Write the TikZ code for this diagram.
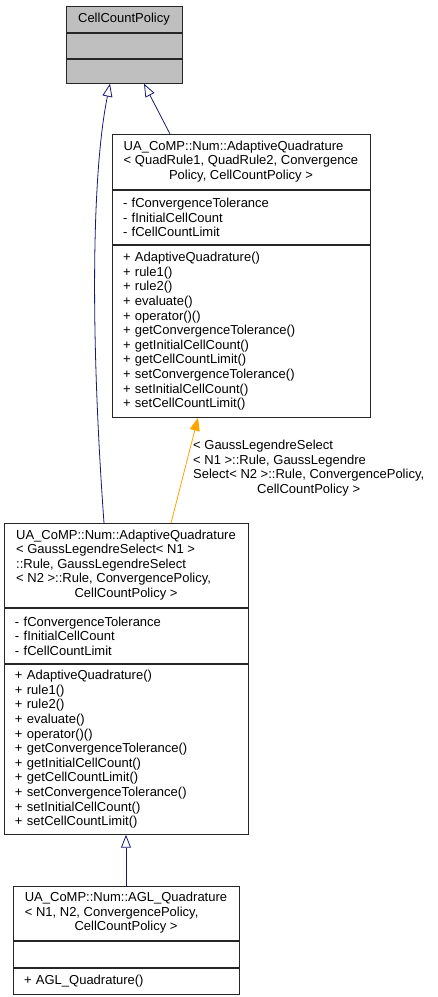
\documentclass[tikz,border=0pt]{standalone}
\usepackage{fontspec}
\setmainfont{Liberation Sans}
\usetikzlibrary{positioning,arrows.meta}
\definecolor{EdgeNavy}{HTML}{191970}
\definecolor{EdgeOrange}{HTML}{FFA500}
\definecolor{PolicyGray}{HTML}{BFBFBF}

% class header: left aligned lines, last line centred
\newcommand{\umlhead}[2]{\begin{tabular}{@{}l@{}}#1\\\multicolumn{1}{@{}c@{}}{#2}\end{tabular}}
\newcommand{\aqfields}{- fConvergenceTolerance\\- fInitialCellCount\\- fCellCountLimit}
\newcommand{\aqmethods}{+ AdaptiveQuadrature()\\+ rule1()\\+ rule2()\\+ evaluate()\\+ operator()()\\+ getConvergenceTolerance()\\+ getInitialCellCount()\\+ getCellCountLimit()\\+ setConvergenceTolerance()\\+ setInitialCellCount()\\+ setCellCountLimit()}

\tikzset{
  umlbox/.style={draw=black!85, line width=0.9pt, rectangle, inner sep=0pt,
    font=\fontsize{13}{14.5}\selectfont},
  umlpart/.style={umlbox, inner xsep=11pt, align=left},
  methods/.style={umlpart, font=\fontsize{13}{14.6}\selectfont},
  inherit/.style={draw=EdgeNavy, line width=0.8pt,
    -{Triangle[open, length=13pt, width=10pt]}},
  realize/.style={draw=EdgeOrange, line width=0.8pt,
    -{Triangle[length=13pt, width=10pt]}},
  edgelabel/.style={inner sep=0pt, font=\fontsize{13}{14.6}\selectfont}
}

\begin{document}
\begin{tikzpicture}[x=1pt, y=-1pt]
  \useasboundingbox (0,0) rectangle (437,997);

  % CellCountPolicy
  \node[umlbox, fill=PolicyGray, minimum width=116pt, minimum height=26pt] (ccpt) at (124,6) [anchor=north] {CellCountPolicy};
  \node[umlbox, fill=PolicyGray, minimum width=116pt, minimum height=25pt, below=0pt of ccpt] (ccpa) {};
  \node[umlbox, fill=PolicyGray, minimum width=116pt, minimum height=24pt, below=0pt of ccpa] (ccpm) {};

  % AdaptiveQuadrature template
  \node[umlbox, minimum width=258pt, minimum height=55pt, anchor=north] (aqt) at (241,134)
    {\umlhead{UA\_CoMP::Num::AdaptiveQuadrature\\< QuadRule1, QuadRule2, Convergence}{Policy, CellCountPolicy >}};
  \node[umlpart, text width=236pt, minimum height=54pt, below=0pt of aqt] (aqa) {\aqfields};
  \node[methods, text width=236pt, minimum height=172pt, below=0pt of aqa] (aqm) {\aqmethods};

  % AdaptiveQuadrature with GaussLegendre rules
  \node[umlbox, minimum width=244pt, minimum height=84pt, anchor=north] (aqgt) at (126,523)
    {\umlhead{UA\_CoMP::Num::AdaptiveQuadrature\\< GaussLegendreSelect< N1 >\\::Rule, GaussLegendreSelect\\< N2 >::Rule, ConvergencePolicy,}{CellCountPolicy >}};
  \node[umlpart, text width=222pt, minimum height=55pt, below=0pt of aqgt] (aqga) {\aqfields};
  \node[methods, text width=222pt, minimum height=170pt, below=0pt of aqga] (aqgm) {\aqmethods};

  % AGL_Quadrature
  \node[umlbox, minimum width=226pt, minimum height=54pt, anchor=north] (aglt) at (126,886)
    {\umlhead{UA\_CoMP::Num::AGL\_Quadrature\\< N1, N2, ConvergencePolicy,}{CellCountPolicy >}};
  \node[umlpart, text width=204pt, minimum height=26pt, below=0pt of aglt] (agla) {};
  \node[methods, text width=204pt, minimum height=26pt, below=0pt of agla] (aglm) {+ AGL\_Quadrature()};

  % edges
  \draw[inherit] ([xshift=-71pt]aqt.north) -- ([xshift=20pt]ccpm.south);
  \draw[inherit] ([xshift=-22pt]aqgt.north) .. controls +(-14,-193) and +(-18,88) .. ([xshift=-14pt]ccpm.south);
  \draw[realize] ([xshift=45pt]aqgt.north) -- ([xshift=-43pt]aqm.south);
  \draw[inherit] (aglt.north) -- (aqgm.south);

  \node[edgelabel, anchor=north west] (lbl) at (193,439)
    {\umlhead{< GaussLegendreSelect\\< N1 >::Rule, GaussLegendre\\Select< N2 >::Rule, ConvergencePolicy,}{CellCountPolicy >}};
\end{tikzpicture}
\end{document}
